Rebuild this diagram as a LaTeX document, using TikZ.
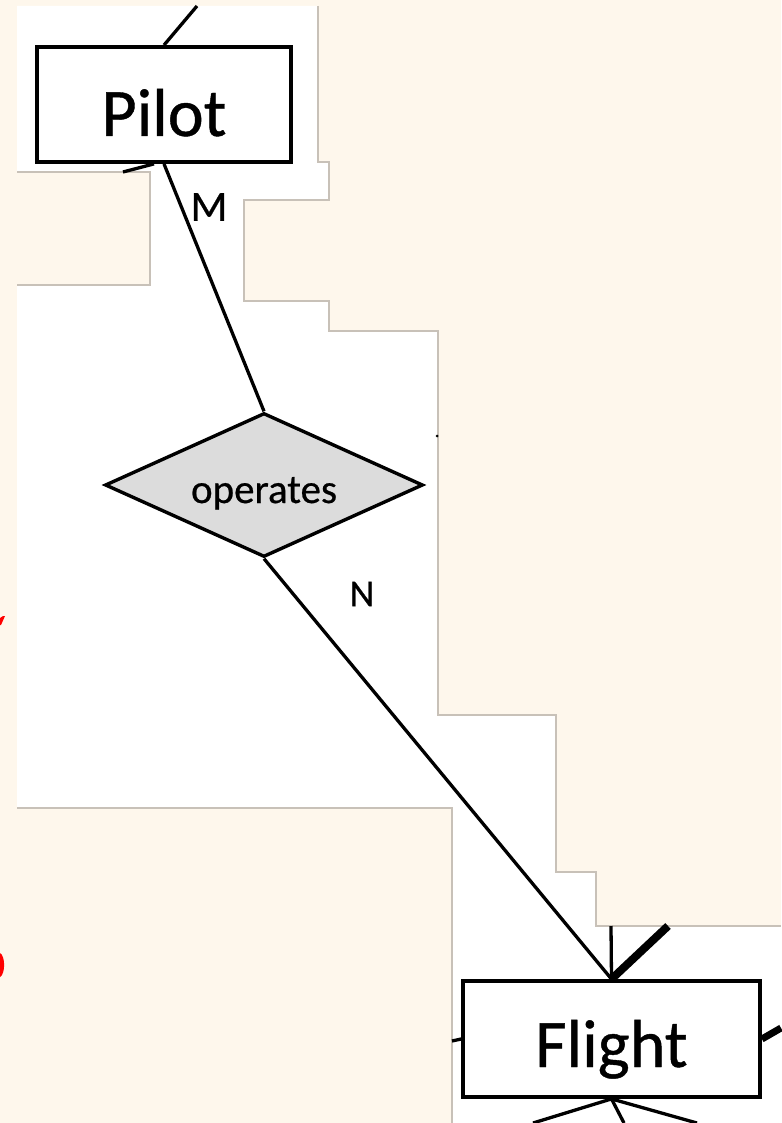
\documentclass[tikz,border=0pt]{standalone}
\usepackage{fontspec}
\setmainfont[FakeBold=0.6]{Carlito}
\usetikzlibrary{shapes.geometric}
\definecolor{cream}{HTML}{FEF7EC}
\definecolor{panelgrey}{HTML}{C8C1B8}
\definecolor{diafill}{HTML}{DCDCDC}
\tikzset{
  entity/.style={draw=black, line width=3.8pt, fill=white, rectangle, minimum width=254pt, minimum height=115pt, inner sep=0pt, text depth=0pt, font=\fontsize{68}{80}\selectfont},
  relation/.style={draw=black, line width=3.4pt, fill=diafill, diamond, shape aspect=2.2, minimum width=318pt, minimum height=144pt, inner sep=0pt, text depth=0pt, text height=36pt, font=\fontsize{41}{48}\selectfont},
  conn/.style={draw=black, line width=3.3pt},
  thickconn/.style={draw=black, line width=8pt},
  card/.style={font=\fontsize{#1}{#1}\selectfont, inner sep=0pt},
  edge grey/.style={draw=panelgrey, line width=1.5pt}
}
\begin{document}
\begin{tikzpicture}[x=1pt,y=-1pt]
\useasboundingbox (0,0) rectangle (781,1123);
\fill[cream] (0,0) rectangle (781,1123);
% white area
\fill[white] (17,6) -- (318,6) -- (318,162) -- (329,162) -- (329,200) -- (244,200) -- (244,301) -- (329,301) -- (329,331) -- (438,331) -- (438,715) -- (556,715) -- (556,872) -- (596,872) -- (596,926) -- (781,926) -- (781,1123) -- (452,1123) -- (452,808) -- (17,808) -- cycle;
\fill[cream] (17,172) rectangle (150,285);
% grey panel edges
\draw[edge grey] (318,6) -- (318,162) -- (329,162) -- (329,200) -- (244,200) -- (244,301) -- (329,301) -- (329,331) -- (438,331) -- (438,715) -- (556,715) -- (556,872) -- (596,872) -- (596,926) -- (781,926);
\draw[edge grey] (17,172) -- (150,172) -- (150,285) -- (17,285);
\draw[edge grey] (17,808) -- (452,808) -- (452,1123);
% red fragments
\fill[red] (0,618) -- (3,616) -- (5,616) -- (1,625) -- (0,625) -- cycle;
\fill[red] (0,953) .. controls (5.5,956) and (5.5,974) .. (0,977) -- cycle;
% nodes
\node[entity, text height=63pt] (pilot) at (164,104.5) {Pilot};
\node[relation] (operates) at (264,485) {operates};
\node[entity, minimum width=297pt, minimum height=116pt, text height=56pt] (flight) at (611.5,1039) {Flight};
% free ends
\coordinate (ptop) at (197,6);
\coordinate (pleft) at (123,172);
\coordinate (fv) at (611,926);
\coordinate (fthick) at (668,926);
\coordinate (fleft) at (452,1041);
\coordinate (fright) at (781,1028);
\coordinate (fb1) at (533,1123);
\coordinate (fb2) at (624,1123);
\coordinate (fb3) at (697,1123);
% connectors
\draw[conn] (pilot.north) -- (ptop);
\draw[conn] (pilot.south) ++(-10,0) -- (pleft);
\draw[conn] (pilot.south) -- (operates.north);
\draw[conn] (operates.south) -- (flight.north);
\draw[conn] (fv) -- (flight.north);
\draw[thickconn] (fthick) -- (flight.north);
\draw[conn] (fleft) -- (flight.west);
\draw[draw=black, line width=7pt] (flight.east) -- (fright);
\draw[conn] (flight.south) -- (fb1);
\draw[conn] (flight.south) -- (fb2);
\draw[conn] (flight.south) -- (fb3);
\fill[black] (437,436) circle (1.5);
% cardinalities
\node[card=43] (m) at (209,207) {M};
\node[card=38] (n) at (362,594) {N};
\end{tikzpicture}
\end{document}
